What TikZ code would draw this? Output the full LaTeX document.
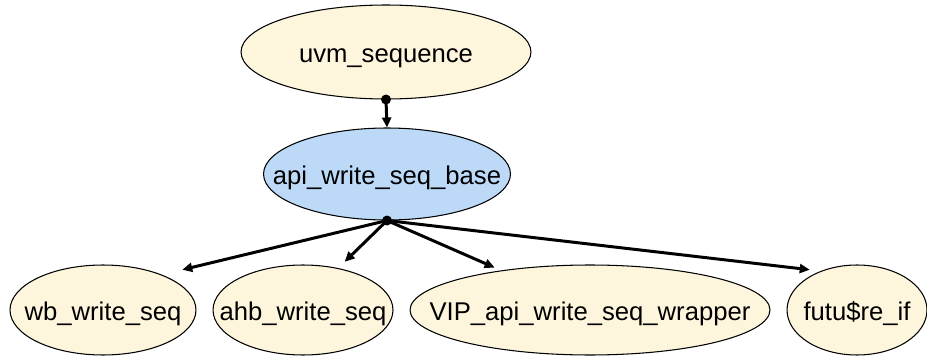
\documentclass[tikz,border=0pt]{standalone}
\usepackage{fontspec}
\setmainfont{Liberation Sans}
\usepackage{xcolor}
\usetikzlibrary{arrows.meta,positioning,shapes.geometric}
\definecolor{clsyellow}{RGB}{253,246,221}
\definecolor{clsblue}{RGB}{188,218,248}
% text kept out of the ellipse size, so minimum width/height give the radii
\newcommand{\ctext}[1]{\makebox[0pt]{\raisebox{-0.8ex}[0pt][0pt]{#1}}}
\tikzset{
  fcls/.style={ellipse, draw=black, line width=0.6pt, fill=clsyellow, inner sep=0pt, minimum height=1.8cm, font=\fontsize{14.6}{17}\selectfont},
  fbase/.style={fcls, fill=clsblue},
  fdot/.style={circle, fill=black, inner sep=0pt, minimum size=2mm},
  farr/.style={-{Triangle[length=2mm, width=1.8mm]}, line width=1.7pt}
}
\begin{document}
\begin{tikzpicture}[x=0.02cm, y=-0.02cm]
\useasboundingbox (0,0) rectangle (927,358);
\node[fcls, minimum width=5.8cm, minimum height=1.88cm] (uvm) at (386,52) {\ctext{uvm\_sequence}};
\node[fbase, minimum width=4.94cm, minimum height=1.84cm] (api) at (387,174) {\ctext{api\_write\_seq\_base}};
\node[fcls, minimum width=3.72cm] (wb) at (103,310) {\ctext{wb\_write\_seq}};
\node[fcls, minimum width=3.6cm, right=0.32cm of wb] (ahb) {\ctext{ahb\_write\_seq}};
\node[fcls, minimum width=7.2cm, right=0.32cm of ahb] (vip) {\ctext{VIP\_api\_write\_seq\_wrapper}};
\node[fcls, minimum width=2.8cm, right=0.32cm of vip] (futu) {\ctext{futu\$re\_if}};
\node[fdot] (d1) at (uvm.south) {};
\node[fdot] (d2) at (api.south) {};
\draw[farr] (d1.center) -- (api.north);
\draw[farr, shorten >=0.42cm] (d2.center) -- (wb.31);
\draw[farr, shorten >=0.18cm] (d2.center) -- (ahb.50);
\draw[farr, shorten >=0.14cm] (d2.center) -- (vip.156);
\draw[farr, shorten >=0.22cm] (d2.center) -- (futu.133);
\end{tikzpicture}
\end{document}
